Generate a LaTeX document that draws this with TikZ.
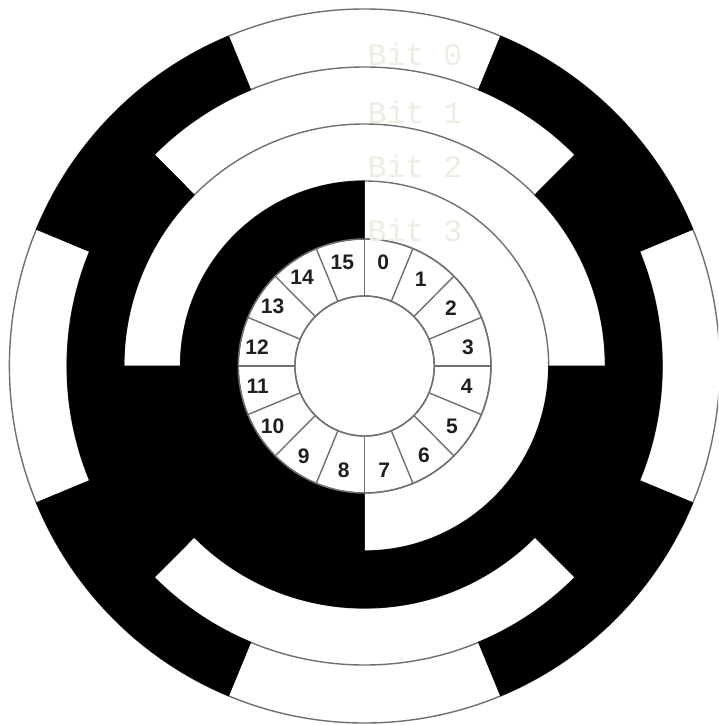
\documentclass[tikz,border=0pt]{standalone}
\usepackage{fontspec}
\usetikzlibrary{calc}
\setmainfont{Liberation Sans}
\newfontfamily\bitfont{Liberation Mono}
\definecolor{ringline}{HTML}{707070}
\definecolor{bitcol}{HTML}{EFECE2}
\tikzset{
  ringstroke/.style={draw=ringline,line width=1.4pt},
  blacksector/.style={fill=black,draw=black,line width=0.7pt},
  numlabel/.style={font=\fontsize{21}{21}\selectfont\bfseries,text=black!88,inner sep=0pt,anchor=center},
  bitlabel/.style={font=\bitfont\fontsize{31.5}{31.5}\selectfont,text=bitcol,inner sep=0pt,anchor=base west},
}
\begin{document}
\begin{tikzpicture}[x=1pt,y=-1pt]
\useasboundingbox (0,0) rectangle (718,725);
\clip (0,0) rectangle (718,725);
\fill[white] (0,0) rectangle (718,725);
\coordinate (c) at (364.6,366);
\begin{scope}[x=1pt,y=1pt,shift={(c)},xscale=0.995]
\foreach \r in {357,299,242,185,127,70}
  \draw[ringstroke] (0,0) circle[radius=\r];
\foreach \ra/\rb/\a/\b in {
  299/357/22.5/67.5, 299/357/112.5/157.5, 299/357/202.5/247.5, 299/357/292.5/337.5,
  242/299/-45/45, 242/299/135/225,
  185/242/180/360,
  127/185/90/270}
{
  \path[blacksector] (\a:\rb) arc[start angle=\a,end angle=\b,radius=\rb]
    -- (\b:\ra) arc[start angle=\b,end angle=\a,radius=\ra] -- cycle;
}
\draw[ringstroke] (0,0) circle[radius=127];
\draw[ringstroke] (0,0) circle[radius=70];
\foreach \k in {0,...,15}
  \draw[ringstroke] ({\k*22.5}:70) -- ({\k*22.5}:127);
\end{scope}
\foreach \n/\X/\Y in {0/460/97,1/572/148,2/663/233,3/714/352,4/710/470,5/666/588,6/582/675,7/463/720,
  8/341/720,9/221/680,10/128/590,11/83/470,12/81/352,13/128/230,14/216/143,15/337/96}
  \node[numlabel] (num\n) at ({230+\X/3},{230+\Y/3}) {\n};
\node[bitlabel] (bit0) at (367.5,65.5) {Bit 0};
\node[bitlabel] (bit1) at (367.5,123) {Bit 1};
\node[bitlabel] (bit2) at (367.5,177) {Bit 2};
\node[bitlabel] (bit3) at (367.5,241) {Bit 3};
\end{tikzpicture}
\end{document}
